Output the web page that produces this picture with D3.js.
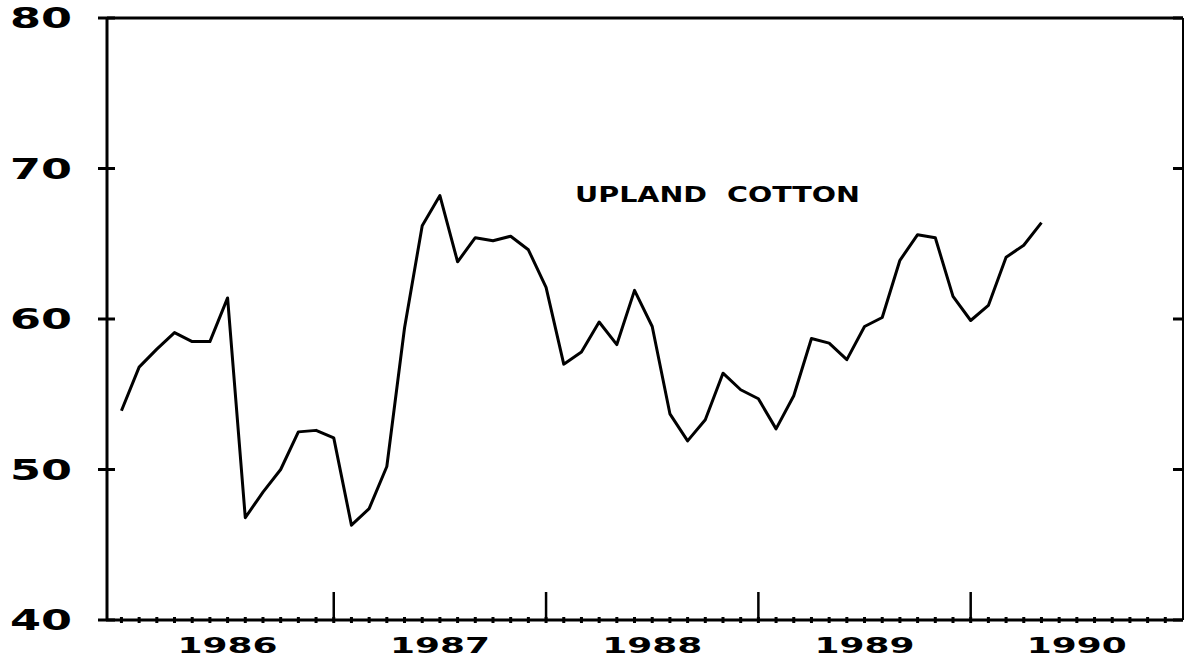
<!DOCTYPE html>
<html>
<head>
<meta charset="utf-8">
<script src="https://cdn.jsdelivr.net/npm/d3@7"></script>
<style>
  body { margin: 0; background: #fff; }
  text { font-family: "DejaVu Sans", sans-serif; font-weight: bold; fill: #000; }
</style>
</head>
<body>
<div id="chart"></div>
<script>
// monthly prices, Jan 1986 .. May 1990
var firstYear = 1986;
var prices = [
  53.9, 56.8, 58.0, 59.1, 58.5, 58.5, 61.4, 46.8, 48.5, 50.0, 52.5, 52.6,
  52.1, 46.3, 47.4, 50.2, 59.4, 66.2, 68.2, 63.8, 65.4, 65.2, 65.5, 64.6,
  62.1, 57.0, 57.8, 59.8, 58.3, 61.9, 59.5, 53.7, 51.9, 53.3, 56.4, 55.3,
  54.7, 52.7, 54.9, 58.7, 58.4, 57.3, 59.5, 60.1, 63.9, 65.6, 65.4, 61.5,
  59.9, 60.9, 64.1, 64.9, 66.4
];
var yearLabels = [1986, 1987, 1988, 1989, 1990];
var yTicks = [40, 50, 60, 70, 80];
var seriesLabel = "UPLAND COTTON";

var width = 1184, height = 657;
var plotLeft = 107, plotRight = 1183, plotTop = 18, plotBottom = 620;

var svg = d3.select('#chart').append('svg')
    .attr('width', width)
    .attr('height', height);

var x = d3.scaleLinear().domain([1985.932, 1991]).range([plotLeft, plotRight]);
var y = d3.scaleLinear().domain([40, 80]).range([plotBottom, plotTop]);

// frame: top and right borders
svg.append('line')
    .attr('x1', plotLeft).attr('y1', plotTop).attr('x2', plotRight).attr('y2', plotTop)
    .style('stroke', '#000').style('stroke-width', 3);
svg.append('line')
    .attr('x1', plotRight).attr('y1', plotTop).attr('x2', plotRight).attr('y2', plotBottom)
    .style('stroke', '#000').style('stroke-width', 2);
// left axis and bottom axis
svg.append('line')
    .attr('x1', plotLeft).attr('y1', plotTop - 1).attr('x2', plotLeft).attr('y2', plotBottom + 1)
    .style('stroke', '#000').style('stroke-width', 3);
svg.append('line')
    .attr('x1', plotLeft - 1).attr('y1', plotBottom).attr('x2', plotRight).attr('y2', plotBottom)
    .style('stroke', '#000').style('stroke-width', 3);

// y ticks, left side crossing the axis, right side pointing inward
yTicks.forEach(function (v) {
    svg.append('line')
        .attr('x1', plotLeft - 9).attr('x2', plotLeft + 8)
        .attr('y1', y(v)).attr('y2', y(v))
        .style('stroke', '#000').style('stroke-width', 3);
    svg.append('line')
        .attr('x1', plotRight - 10).attr('x2', plotRight)
        .attr('y1', y(v)).attr('y2', y(v))
        .style('stroke', '#000').style('stroke-width', 3);
    svg.append('text')
        .attr('x', 10)
        .attr('y', y(v) + 10)
        .attr('textLength', 62)
        .attr('lengthAdjust', 'spacingAndGlyphs')
        .style('font-size', '28px')
        .text(v);
});

// month ticks along bottom axis
var months = d3.range(0, 12 * yearLabels.length);
svg.selectAll('.minor').data(months).enter().append('line')
    .attr('class', 'minor')
    .attr('x1', function (d) { return x(firstYear + d / 12); })
    .attr('x2', function (d) { return x(firstYear + d / 12); })
    .attr('y1', plotBottom - 3).attr('y2', plotBottom + 3)
    .style('stroke', '#000').style('stroke-width', 3);

// year boundary ticks
svg.selectAll('.major').data(yearLabels.slice(1)).enter().append('line')
    .attr('class', 'major')
    .attr('x1', function (d) { return x(d); })
    .attr('x2', function (d) { return x(d); })
    .attr('y1', plotBottom - 28).attr('y2', plotBottom)
    .style('stroke', '#000').style('stroke-width', 2.5);

// year labels centred in each year
svg.selectAll('.year').data(yearLabels).enter().append('text')
    .attr('class', 'year')
    .attr('x', function (d) { return x(d + 0.5) - 50; })
    .attr('y', 653)
    .attr('textLength', 100)
    .attr('lengthAdjust', 'spacingAndGlyphs')
    .style('font-size', '22px')
    .text(function (d) { return d; });

// price line
var line = d3.line()
    .x(function (d, i) { return x(firstYear + i / 12); })
    .y(function (d) { return y(d); });

svg.append('path')
    .datum(prices)
    .attr('d', line)
    .style('fill', 'none')
    .style('stroke', '#000')
    .style('stroke-width', 3)
    .style('stroke-linejoin', 'round');

svg.append('text')
    .attr('x', 575)
    .attr('y', 202)
    .attr('textLength', 285)
    .attr('lengthAdjust', 'spacingAndGlyphs')
    .style('font-size', '21px')
    .style('white-space', 'pre')
    .text(seriesLabel.replace(' ', '  '));
</script>
</body>
</html>
